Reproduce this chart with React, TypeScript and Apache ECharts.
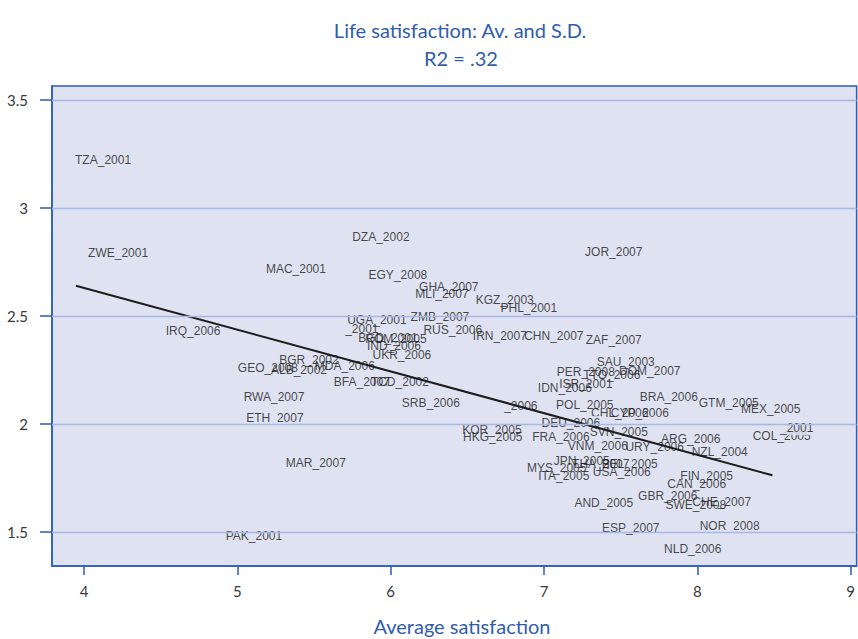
import React, { useEffect, useRef } from "react";
import * as echarts from "echarts";

const countries = [
  "TZA_2001", "ZWE_2001", "MAC_2001", "DZA_2002", "JOR_2007", "EGY_2008", "GHA_2007", "MLI_2007",
  "KGZ_2003", "PHL_2001", "UGA_2001", "ZMB_2007", "IRQ_2006", "_2001", "RUS_2006", "IRN_2007",
  "CHN_2007", "ZAF_2007", "BGD_2001", "ROM_2005", "IND_2006", "UKR_2006", "BGR_2002", "GEO_2008",
  "ALB_2002", "MDA_2006", "BFA_2007", "TCD_2002", "RWA_2007", "ETH_2007", "SRB_2006", "_2006",
  "MAR_2007", "PAK_2001", "SAU_2003", "PER_2008", "TTO_2006", "DOM_2007", "IDN_2006", "ISR_2001",
  "BRA_2006", "GTM_2005", "MEX_2005", "POL_2005", "CHL_2006", "CYP_2006", "DEU_2006", "SVN_2005",
  "KOR_2005", "HKG_2005", "FRA_2006", "ARG_2006", "COL_2005", "_2001", "NZL_2004", "URY_2006",
  "VNM_2006", "JPN_2005", "MYS_2005", "THA_2007", "BEL_2005", "USA_2006", "ITA_2005", "FIN_2005",
  "CAN_2006", "AND_2005", "GBR_2006", "SWE_2008", "CHE_2007", "ESP_2007", "NOR_2008", "NLD_2006",
];

const avgSatisfaction = [
  4.124, 4.222, 5.382, 5.936, 7.455, 6.047, 6.379, 6.334,
  6.744, 6.901, 5.91, 6.321, 4.711, 5.812, 6.405, 6.712,
  7.064, 7.455, 5.982, 6.034, 6.021, 6.073, 5.467, 5.199,
  5.402, 5.701, 5.812, 6.06, 5.239, 5.245, 6.262, 6.849,
  5.512, 5.108, 7.533, 7.273, 7.442, 7.69, 7.136, 7.273,
  7.814, 8.205, 8.479, 7.266, 7.494, 7.625, 7.175, 7.488,
  6.66, 6.666, 7.11, 7.957, 8.55, 8.648, 8.146, 7.722,
  7.351, 7.246, 7.083, 7.37, 7.559, 7.507, 7.129, 8.061,
  7.996, 7.39, 7.807, 7.99, 8.159, 7.566, 8.211, 7.97,
];

const sdSatisfaction = [
  3.222, 2.792, 2.718, 2.866, 2.796, 2.69, 2.634, 2.602,
  2.574, 2.537, 2.481, 2.495, 2.431, 2.44, 2.435, 2.407,
  2.407, 2.389, 2.398, 2.394, 2.361, 2.319, 2.296, 2.259,
  2.25, 2.269, 2.194, 2.194, 2.125, 2.028, 2.097, 2.083,
  1.819, 1.481, 2.287, 2.241, 2.227, 2.245, 2.167, 2.185,
  2.125, 2.097, 2.069, 2.088, 2.051, 2.051, 2.005, 1.963,
  1.972, 1.94, 1.94, 1.931, 1.944, 1.981, 1.87, 1.894,
  1.898, 1.829, 1.796, 1.815, 1.815, 1.778, 1.759, 1.759,
  1.722, 1.634, 1.667, 1.625, 1.639, 1.519, 1.528, 1.421,
];

const trendX = [3.947, 8.49];
const trendY = [2.64, 1.763];

const xTicks = [4, 5, 6, 7, 8, 9];
const yTicks = [1.5, 2, 2.5, 3, 3.5];

const titleLines = ["Life satisfaction: Av. and S.D.", "R2 = .32"];
const xAxisTitle = "Average satisfaction";

export default function App() {
  const ref = useRef<HTMLDivElement>(null);

  useEffect(() => {
    document.body.style.margin = "0";
    const chart = echarts.init(ref.current!, null, { renderer: "svg" });
    const bg = "#dfe2f0";
    const blue = "#2b5cb5";
    const data = countries.map((n, i) => {
      const y = sdSatisfaction[i];
      const onGrid = yTicks.some((t) => Math.abs(t - y) < 0.035);
      return {
        name: n,
        value: [avgSatisfaction[i], y],
        label: onGrid ? { backgroundColor: bg, padding: [1, 4] } : undefined,
      };
    });

    chart.setOption({
      animation: false,
      grid: {
        left: 52,
        right: 1,
        top: 86,
        bottom: 73,
        show: true,
        backgroundColor: bg,
        borderColor: blue,
        borderWidth: 1.5,
      },
      xAxis: {
        type: "value",
        min: 3.791,
        max: 9.039,
        axisLine: { show: true, onZero: false, lineStyle: { color: blue, width: 1.5 } },
        axisTick: { show: true, customValues: xTicks, length: 9, lineStyle: { color: blue, width: 1.5 } },
        axisLabel: { customValues: xTicks, margin: 17, color: "#3a3a3a", fontSize: 15, fontFamily: "Lato" },
        splitLine: { show: false },
      },
      yAxis: {
        type: "value",
        min: 1.343,
        max: 3.565,
        axisLine: { show: true, onZero: false, lineStyle: { color: blue, width: 1.5 } },
        axisTick: { show: true, customValues: yTicks, length: 12, lineStyle: { color: blue, width: 1.5 } },
        axisLabel: {
          customValues: yTicks,
          margin: 24,
          color: "#3a3a3a",
          fontSize: 15,
          fontFamily: "Lato",
          formatter: (v: number) => String(v),
        },
        splitLine: { show: false },
      },
      series: [
        {
          type: "line",
          data: [],
          z: 1,
          silent: true,
          markLine: {
            silent: true,
            symbol: "none",
            label: { show: false },
            lineStyle: { color: "#a9b7e5", width: 1.3, type: "solid" },
            data: yTicks.map((t) => ({ yAxis: t })),
          },
        },
        {
          type: "scatter",
          data,
          z: 3,
          symbolSize: 1,
          itemStyle: { color: "rgba(0,0,0,0)" },
          label: {
            show: true,
            position: "inside",
            formatter: "{b}",
            color: "#1a1a1a",
            fontSize: 12,
            fontFamily: "Liberation Sans",
          },
        },
        {
          type: "line",
          z: 4,
          data: trendX.map((x, i) => [x, trendY[i]]),
          symbol: "none",
          showSymbol: false,
          lineStyle: { color: "#1c1c1c", width: 2 },
        },
      ],
      graphic: [
        {
          type: "text",
          x: 460,
          y: 30,
          style: { text: titleLines[0], fill: "#2f5dab", font: "20px Lato", textAlign: "center", textVerticalAlign: "middle" },
        },
        {
          type: "text",
          x: 461,
          y: 58,
          style: { text: titleLines[1], fill: "#2f5dab", font: "20px Lato", textAlign: "center", textVerticalAlign: "middle" },
        },
        {
          type: "text",
          x: 462,
          y: 626,
          style: { text: xAxisTitle, fill: "#2f5dab", font: "20px Lato", textAlign: "center", textVerticalAlign: "middle" },
        },
      ],
    });
    return () => chart.dispose();
  }, []);

  return <div ref={ref} style={{ width: 858, height: 639 }} />;
}
